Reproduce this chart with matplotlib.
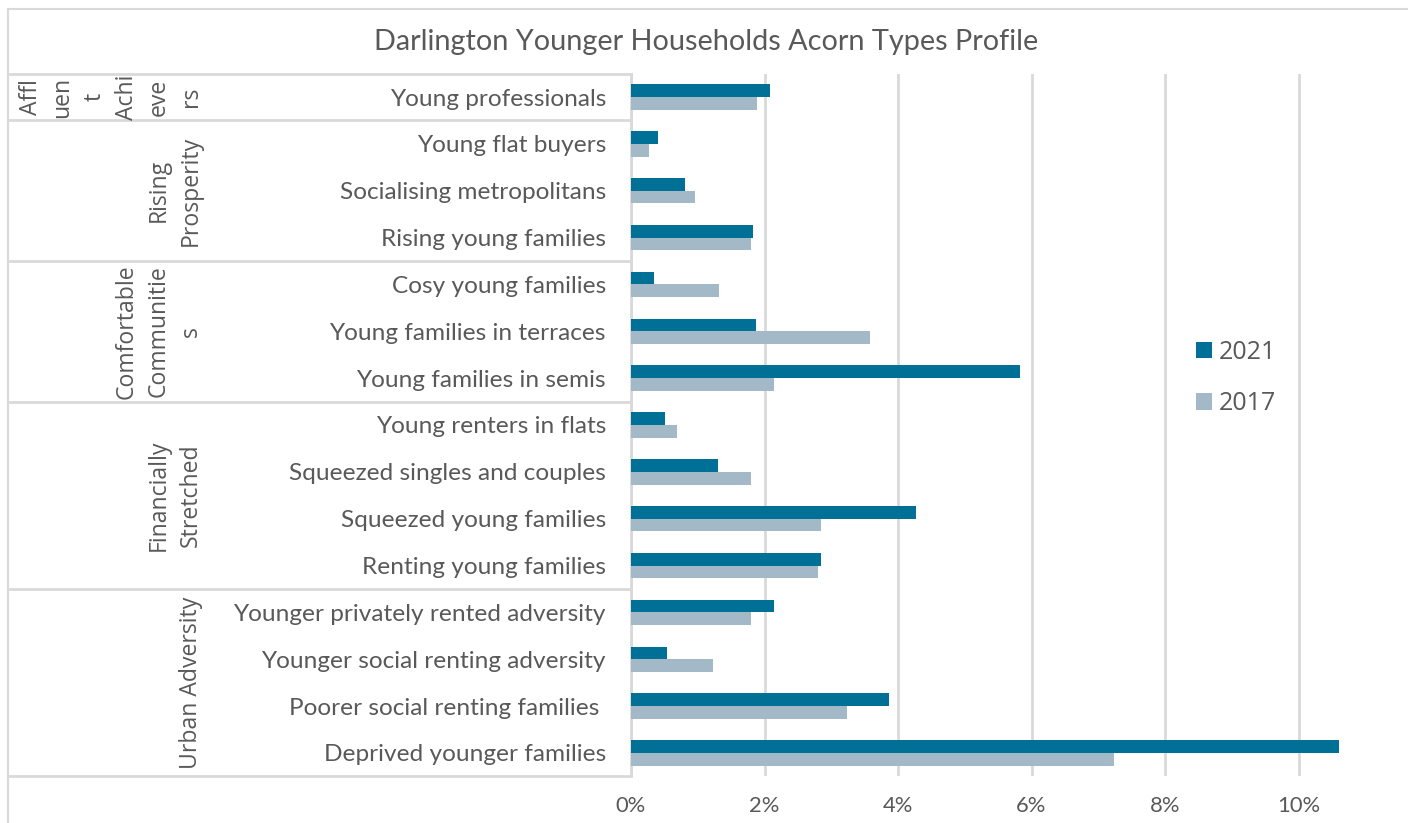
import matplotlib.pyplot as plt
import matplotlib.transforms as mtransforms
import matplotlib.ticker as mtick
from matplotlib.patches import Rectangle
import numpy as np

plt.switch_backend('Agg')

# Acorn types (top to bottom) and their shares of younger households, in %
categories = [
    'Young professionals',
    'Young flat buyers', 'Socialising metropolitans', 'Rising young families',
    'Cosy young families', 'Young families in terraces', 'Young families in semis',
    'Young renters in flats', 'Squeezed singles and couples',
    'Squeezed young families', 'Renting young families',
    'Younger privately rented adversity', 'Younger social renting adversity',
    'Poorer social renting families ', 'Deprived younger families',
]
values_2021 = [2.08, 0.40, 0.81, 1.83, 0.34, 1.87, 5.83, 0.51, 1.30, 4.27,
               2.85, 2.14, 0.54, 3.87, 10.60]
values_2017 = [1.89, 0.27, 0.96, 1.80, 1.32, 3.58, 2.14, 0.69, 1.80, 2.85,
               2.80, 1.80, 1.23, 3.24, 7.23]

# Acorn groups, as wrapped in the original chart
groups = ['Affl\nuen\nt\nAchi\neve\nrs', 'Rising\nProsperity',
          'Comfortable\nCommunitie\ns', 'Financially\nStretched', 'Urban Adversity']
group_sizes = [1, 3, 3, 4, 4]
x_ticks = [0, 2, 4, 6, 8, 10]

color_2021 = '#007096'
color_2017 = '#A4B9C8'
text_color = '#595959'
line_color = '#D9D9D9'

W, H = 1408, 823
fig = plt.figure(figsize=(W / 100, H / 100), dpi=100)

# chart border
fig.patches.append(Rectangle((8 / W, -0.05), 1.1, (H - 9) / H + 0.05,
                             transform=fig.transFigure, fill=False,
                             edgecolor=line_color, linewidth=1.5))

ax_left, ax_top, ax_bottom = 631, 73.6, 776.4
ax = fig.add_axes([ax_left / W, 1 - ax_bottom / H, 1 - ax_left / W,
                   (ax_bottom - ax_top) / H])

y = np.arange(len(categories))
bar_h = 0.27
ax.barh(y - bar_h / 2, values_2021, height=bar_h, color=color_2021, label='2021', zorder=3)
ax.barh(y + bar_h / 2, values_2017, height=bar_h, color=color_2017, label='2017', zorder=3)

ax.set_ylim(len(categories) - 0.5, -0.5)
ax.set_xlim(0, (W - ax_left) / 66.75)
ax.set_xticks(x_ticks)
ax.xaxis.set_major_formatter(mtick.FuncFormatter(lambda v, p: f'{v:.0f}%'))
ax.set_yticks(y)
ax.set_yticklabels(categories, family='Lato', fontsize=17.6, color=text_color)
ax.tick_params(axis='y', length=0, pad=18)
ax.tick_params(axis='x', length=0, pad=14, labelsize=15.8, labelcolor=text_color)
for lab in ax.get_xticklabels():
    lab.set_family('Lato')

ax.grid(axis='x', color=line_color, linewidth=2, zorder=0)
ax.grid(False, axis='y')
for s in ('top', 'right', 'bottom'):
    ax.spines[s].set_visible(False)
ax.spines['left'].set_color(line_color)
ax.spines['left'].set_linewidth(2)

# group separators and group labels in the label area
trans = mtransforms.blended_transform_factory(fig.transFigure, ax.transData)
edges = np.concatenate([[0], np.cumsum(group_sizes)]) - 0.5
for e in edges:
    ax.plot([8 / W, ax_left / W], [e, e], transform=trans, color=line_color,
            linewidth=2, clip_on=False)
for g, lo, hi in zip(groups, edges[:-1], edges[1:]):
    ax.text(203 / W, (lo + hi) / 2, g, transform=trans, rotation=90,
            ha='right', va='center', multialignment='center', linespacing=1.45,
            family='Open Sans', fontsize=16.6, color=text_color)

fig.text(706 / W, 1 - 42 / H, 'Darlington Younger Households Acorn Types Profile',
         ha='center', va='center', family='Lato', fontsize=20.8, color=text_color)

ax.legend(loc='center left', bbox_to_anchor=(1173 / W, 1 - 378 / H),
          bbox_transform=fig.transFigure, frameon=False,
          prop={'family': 'Open Sans', 'size': 18}, labelcolor=text_color,
          handlelength=0.65, handleheight=0.65, handletextpad=0.3, labelspacing=1.05)

fig.savefig('out.png', dpi=100)
plt.close(fig)
